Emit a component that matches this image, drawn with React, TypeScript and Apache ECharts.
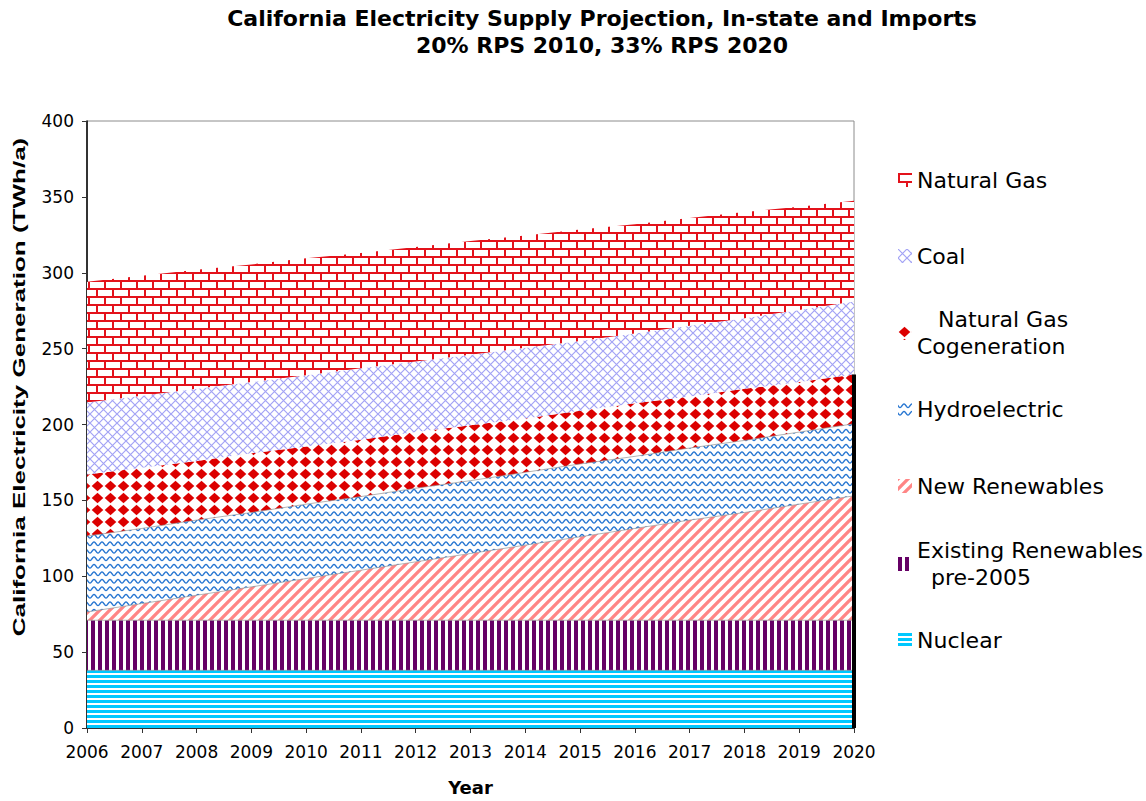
import React, { useEffect, useRef } from "react";
import * as echarts from "echarts";

const years = ["2006", "2007", "2008", "2009", "2010", "2011", "2012", "2013", "2014", "2015", "2016", "2017", "2018", "2019", "2020"];
const nuclear = [38, 38, 38, 38, 38, 38, 38, 38, 38, 38, 38, 38, 38, 38, 38];
const existingRenewables = [33, 33, 33, 33, 33, 33, 33, 33, 33, 33, 33, 33, 33, 33, 33];
const newRenewables = [5.5, 11, 16.5, 22, 27.5, 33, 38.5, 44, 49.5, 55, 60.5, 66, 71, 76.5, 82];
const hydroelectric = [50, 49.5, 49.5, 49, 49, 48.5, 48.5, 48, 48, 48, 47.5, 47.5, 47.5, 47.5, 47.5];
const cogeneration = [40.5, 40, 39, 39, 38, 37.5, 37, 36.5, 35.5, 35, 35, 34, 34, 33, 32.5];
const coal = [47.5, 47.5, 47.5, 47, 47, 47, 46.5, 46.5, 46.5, 46, 46, 46.5, 46.5, 47.5, 48];
const naturalGas = [79.5, 79, 78.5, 77.5, 77, 76, 75.5, 75, 74, 73.5, 72, 71, 70, 68, 66.5];
const yTicks = { min: 0, max: 400, interval: 50 };

function tile(w: number, h: number, draw: (ctx: CanvasRenderingContext2D) => void) {
  const c = document.createElement("canvas");
  c.width = w;
  c.height = h;
  const ctx = c.getContext("2d") as CanvasRenderingContext2D;
  ctx.fillStyle = "#ffffff";
  ctx.fillRect(0, 0, w, h);
  draw(ctx);
  return { image: c, repeat: "repeat" } as any;
}

function makePatterns() {
  const ng = tile(16, 16, (ctx) => {
    ctx.fillStyle = "#e3121b";
    ctx.fillRect(0, 0, 16, 2);
    ctx.fillRect(0, 8, 16, 2);
    ctx.fillRect(0, 0, 2, 8);
    ctx.fillRect(8, 8, 2, 8);
  });
  const coalP = tile(9, 9, (ctx) => {
    ctx.strokeStyle = "#a3a3f5";
    ctx.lineWidth = 1.2;
    ctx.beginPath();
    ctx.moveTo(0, 0);
    ctx.lineTo(9, 9);
    ctx.moveTo(9, 0);
    ctx.lineTo(0, 9);
    ctx.stroke();
  });
  const cogen = tile(13, 12, (ctx) => {
    ctx.fillStyle = "#dc0000";
    ctx.beginPath();
    ctx.moveTo(6.5, 0.7);
    ctx.lineTo(12.3, 6);
    ctx.lineTo(6.5, 11.3);
    ctx.lineTo(0.7, 6);
    ctx.closePath();
    ctx.fill();
  });
  const hydro = tile(8, 15, (ctx) => {
    ctx.strokeStyle = "#2a78d2";
    ctx.lineWidth = 1.4;
    for (const cy of [3.75, 11.25]) {
      ctx.beginPath();
      for (let x = -1; x <= 9; x += 0.5) {
        const y = cy + 1.8 * Math.sin((2 * Math.PI * x) / 8);
        if (x === -1) ctx.moveTo(x, y);
        else ctx.lineTo(x, y);
      }
      ctx.stroke();
    }
  });
  const newRen = tile(10, 10, (ctx) => {
    ctx.strokeStyle = "#ff8585";
    ctx.lineWidth = 3.3;
    ctx.beginPath();
    ctx.moveTo(-5, 5);
    ctx.lineTo(5, -5);
    ctx.moveTo(-1, 11);
    ctx.lineTo(11, -1);
    ctx.moveTo(5, 15);
    ctx.lineTo(15, 5);
    ctx.stroke();
  });
  const existing = tile(7, 4, (ctx) => {
    ctx.fillStyle = "#660066";
    ctx.fillRect(0, 0, 4, 4);
  });
  const nuc = tile(4, 5, (ctx) => {
    ctx.fillStyle = "#00c8ff";
    ctx.fillRect(0, 0, 4, 3);
  });
  return { ng, coalP, cogen, hydro, newRen, existing, nuc };
}

export default function App() {
  const ref = useRef<HTMLDivElement>(null);
  useEffect(() => {
    document.body.style.margin = "0";
    if (!ref.current) return;
    const chart = echarts.init(ref.current, undefined, { renderer: "svg" });
    const p = makePatterns();
    const last = years.length - 1;
    const blackTop = nuclear[last] + existingRenewables[last] + newRenewables[last] + hydroelectric[last] + cogeneration[last];

    const boundary = { color: "#8a8a8a", width: 0.8, opacity: 0.8 };
    const none = { width: 0 };
    const defs = [
      { name: "Nuclear", data: nuclear, pat: p.nuc, line: boundary },
      { name: "Existing Renewables pre-2005", data: existingRenewables, pat: p.existing, line: boundary },
      { name: "New Renewables", data: newRenewables, pat: p.newRen, line: boundary },
      { name: "Hydroelectric", data: hydroelectric, pat: p.hydro, line: boundary },
      { name: "Natural Gas Cogeneration", data: cogeneration, pat: p.cogen, line: none },
      { name: "Coal", data: coal, pat: p.coalP, line: none },
      { name: "Natural Gas", data: naturalGas, pat: p.ng, line: none },
    ];

    const series: any[] = defs.map((d, i) => ({
      name: d.name,
      type: "line",
      stack: "total",
      data: d.data,
      showSymbol: false,
      symbol: "none",
      lineStyle: d.line,
      areaStyle: { color: d.pat, opacity: 1 },
      itemStyle: { color: d.pat },
      emphasis: { disabled: true },
      silent: true,
      z: 2,
      ...(i === 0
        ? {
            markLine: {
              silent: true,
              symbol: "none",
              label: { show: false },
              lineStyle: { color: "#000", width: 4, type: "solid" },
              data: [[{ coord: [years[last], 0] }, { coord: [years[last], blackTop] }]],
            },
          }
        : {}),
    }));

    const legendFont = { fontSize: 22, fontFamily: "DejaVu Sans", color: "#000" };
    const patByName: Record<string, any> = {};
    defs.forEach((d) => (patByName[d.name] = d.pat));
    const legendItems = [
      { name: "Natural Gas", center: 180, multi: null },
      { name: "Coal", center: 256, multi: null },
      { name: "Natural Gas Cogeneration", center: 333, multi: "   Natural Gas\nCogeneration" },
      { name: "Hydroelectric", center: 409, multi: null },
      { name: "New Renewables", center: 486, multi: null },
      { name: "Existing Renewables pre-2005", center: 564, multi: "Existing Renewables\n  pre-2005" },
      { name: "Nuclear", center: 640, multi: null },
    ];
    const legends = legendItems.map((it) => ({
      show: true,
      left: 898,
      top: it.multi ? it.center - 40.5 : it.center - 11,
      padding: 0,
      orient: "vertical",
      icon: "rect",
      itemWidth: 14,
      itemHeight: 14,
      itemGap: 5,
      selectedMode: false,
      data: [{ name: it.name, itemStyle: { color: patByName[it.name], borderWidth: 0 } }],
      formatter: it.multi ? () => it.multi : "{name}",
      textStyle: it.multi ? { ...legendFont, lineHeight: 27, padding: [27, 0, 0, 0] } : { ...legendFont },
    }));

    chart.setOption({
      animation: false,
      backgroundColor: "#ffffff",
      title: {
        text: "California Electricity Supply Projection, In-state and Imports\n20% RPS 2010, 33% RPS 2020",
        left: 597,
        top: 0,
        textAlign: "center",
        textStyle: { fontFamily: "DejaVu Sans", fontWeight: "bold", fontSize: 22, lineHeight: 27, color: "#000" },
      },
      legend: legends,
      grid: {
        left: 87,
        top: 121,
        width: 767,
        height: 611,
        show: true,
        borderColor: "#8c8c8c",
        borderWidth: 1,
        backgroundColor: "transparent",
      },
      xAxis: {
        type: "category",
        data: years,
        boundaryGap: false,
        name: "Year",
        nameLocation: "middle",
        nameGap: 50,
        nameTextStyle: { fontFamily: "DejaVu Sans", fontWeight: "bold", fontSize: 18, color: "#000" },
        axisLine: { show: true, lineStyle: { color: "#000", width: 1.5 } },
        axisTick: { show: true, interval: 0, length: 5, lineStyle: { color: "#333" } },
        axisLabel: { interval: 0, margin: 15, fontFamily: "DejaVu Sans", fontSize: 17, color: "#000" },
        splitLine: { show: false },
      },
      yAxis: {
        type: "value",
        min: yTicks.min,
        max: yTicks.max,
        interval: yTicks.interval,
        axisLine: { show: true, lineStyle: { color: "#000", width: 1.5 } },
        axisTick: { show: true, length: 5, lineStyle: { color: "#333" } },
        axisLabel: { margin: 13, fontFamily: "DejaVu Sans", fontSize: 17, color: "#000" },
        splitLine: { show: false },
      },
      graphic: [
        {
          type: "text",
          x: 19,
          y: 387,
          rotation: Math.PI / 2,
          scaleX: 1.53,
          style: {
            text: "California Electricity Generation (TWh/a)",
            font: "bold 17px 'Liberation Sans'",
            fill: "#000",
            textAlign: "center",
            textVerticalAlign: "middle",
          },
        },
      ],
      series,
    });
    return () => chart.dispose();
  }, []);
  return <div ref={ref} style={{ width: 1146, height: 801, overflow: "hidden" }} />;
}
